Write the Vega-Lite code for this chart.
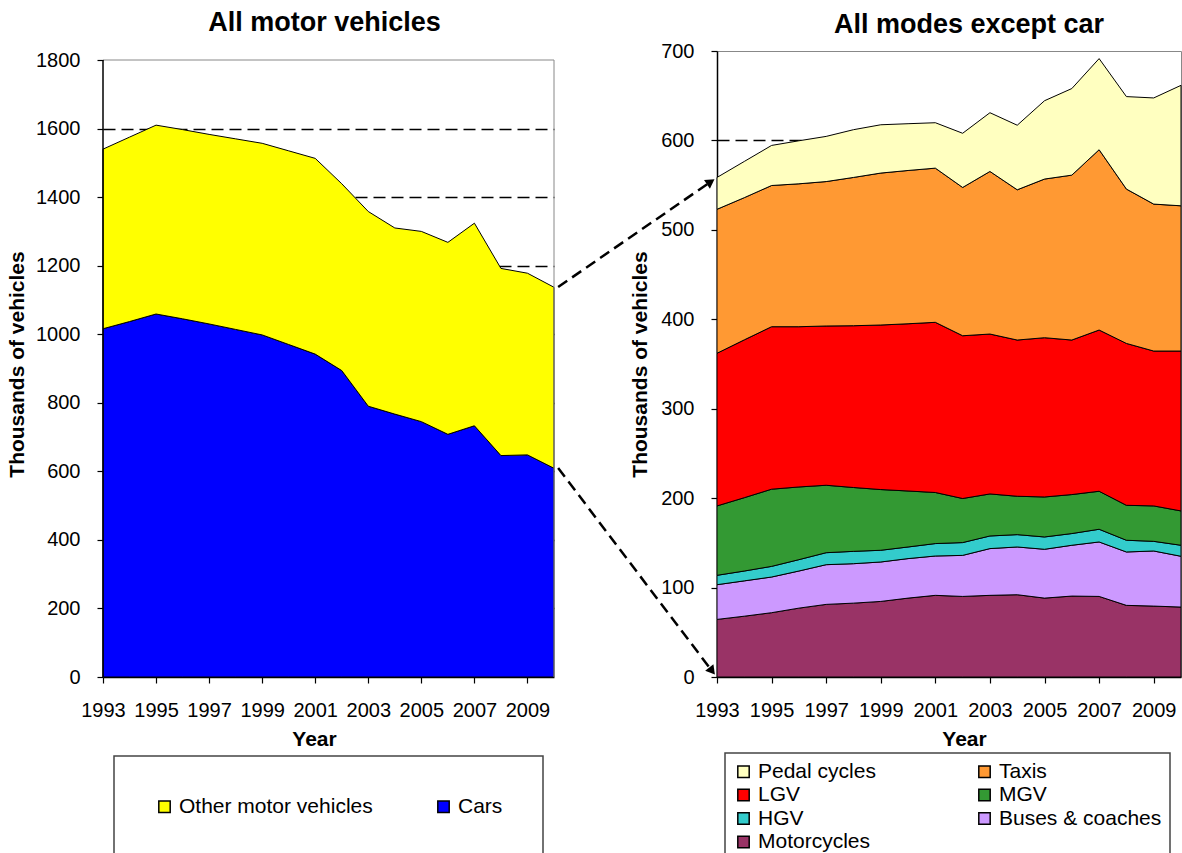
{
  "$schema": "https://vega.github.io/schema/vega-lite/v6.json",
  "padding": {"left": 6, "top": 9, "right": 0, "bottom": 0},
  "background": "white",
  "spacing": 0,
  "config": {
    "font": "Liberation Sans",
    "view": {"stroke": "#888888", "strokeWidth": 1},
    "title": {"font": "Liberation Sans", "fontSize": 27, "fontWeight": "bold", "color": "black", "anchor": "middle", "frame": "group"},
    "axis": {"domainColor": "black", "domainWidth": 1.5, "tickColor": "black", "tickSize": 6, "tickWidth": 1.2, "labelFont": "Liberation Sans", "labelFontSize": 20, "labelColor": "black", "labelPadding": 17, "titleFont": "Liberation Sans", "titleFontSize": 21, "titleFontWeight": "bold", "titleColor": "black", "labelOverlap": false, "labelFlush": false},
    "axisX": {"grid": false},
    "axisY": {"grid": true, "gridColor": "black", "gridDash": [12, 6], "gridWidth": 1.3},
    "legend": {"labelFont": "Liberation Sans", "labelFontSize": 21, "labelColor": "black", "labelLimit": 400, "symbolType": "square", "symbolSize": 130, "symbolStrokeColor": "black", "symbolStrokeWidth": 1.5, "labelOffset": 4, "strokeColor": "#444444", "strokeWidth": 1.5}
  },
  "resolve": {"scale": {"fill": "independent", "x": "independent", "y": "independent"}, "legend": {"fill": "independent"}},
  "hconcat": [
    {
      "width": 451,
      "height": 626,
      "view": {"stroke": null},
      "title": {"text": "All motor vehicles", "dx": -4, "offset": 13},
      "layer": [
        {
          "data": {"values": [
            {"year": 1993, "Cars": 1016, "Other motor vehicles": 524},
            {"year": 1994, "Cars": 1037, "Other motor vehicles": 538},
            {"year": 1995, "Cars": 1059, "Other motor vehicles": 551},
            {"year": 1996, "Cars": 1045, "Other motor vehicles": 552},
            {"year": 1997, "Cars": 1030, "Other motor vehicles": 553},
            {"year": 1998, "Cars": 1014, "Other motor vehicles": 556},
            {"year": 1999, "Cars": 998, "Other motor vehicles": 559},
            {"year": 2000, "Cars": 970, "Other motor vehicles": 565},
            {"year": 2001, "Cars": 942, "Other motor vehicles": 571},
            {"year": 2002, "Cars": 894, "Other motor vehicles": 545},
            {"year": 2003, "Cars": 790, "Other motor vehicles": 568},
            {"year": 2004, "Cars": 767, "Other motor vehicles": 543},
            {"year": 2005, "Cars": 745, "Other motor vehicles": 555},
            {"year": 2006, "Cars": 708, "Other motor vehicles": 560},
            {"year": 2007, "Cars": 733, "Other motor vehicles": 591},
            {"year": 2008, "Cars": 646, "Other motor vehicles": 546},
            {"year": 2009, "Cars": 648, "Other motor vehicles": 530},
            {"year": 2010, "Cars": 609, "Other motor vehicles": 528}
          ]},
          "transform": [{"fold": ["Cars", "Other motor vehicles"], "as": ["vehicle", "value"]}],
          "mark": {"type": "area", "stroke": "black", "strokeWidth": 1, "interpolate": "linear"},
          "encoding": {
            "x": {"field": "year", "type": "quantitative", "scale": {"domain": [1993, 2010], "nice": false, "zero": false},
              "axis": {"values": [1993,1994,1995,1996,1997,1998,1999,2000,2001,2002,2003,2004,2005,2006,2007,2008,2009,2010], "format": "d", "labelExpr": "datum.value % 2 == 1 ? datum.label : ''", "title": "Year", "titleX": 211, "titlePadding": 8}},
            "y": {"field": "value", "type": "quantitative", "stack": "zero", "scale": {"domain": [0, 1826.3], "nice": false},
              "axis": {"values": [0,200,400,600,800,1000,1200,1400,1600,1800], "format": "d", "domain": false, "title": "Thousands of vehicles", "titlePadding": 8, "gridOpacity": {"condition": {"test": "datum.value == 0 || datum.value == 1800", "value": 0}, "value": 1}}},
            "fill": {"field": "vehicle", "type": "nominal", "scale": {"domain": ["Other motor vehicles", "Cars"], "range": ["#FFFF00", "#0000FF"]},
              "legend": {"title": null, "orient": "none", "legendX": 11, "legendY": 705, "direction": "horizontal", "columns": 2, "columnPadding": 60, "padding": 40}},
            "order": {"field": "vehicle", "sort": "ascending"}
          }
        },
        {
          "data": {"values": [
            {"x": 1993, "y": 1800, "x2": 2010, "y2": 1800},
            {"x": 2010, "y": 0, "x2": 2010, "y2": 1800}
          ]},
          "mark": {"type": "rule", "color": "#888888", "strokeWidth": 1},
          "encoding": {
            "x": {"field": "x", "type": "quantitative", "title": "Year"},
            "y": {"field": "y", "type": "quantitative", "title": "Thousands of vehicles"},
            "x2": {"field": "x2"},
            "y2": {"field": "y2"}
          }
        },
        {
          "data": {"values": [
            {"x": 1993, "y": 0, "x2": 1993, "y2": 1800}
          ]},
          "mark": {"type": "rule", "color": "black", "strokeWidth": 1.5},
          "encoding": {
            "x": {"field": "x", "type": "quantitative", "title": "Year"},
            "y": {"field": "y", "type": "quantitative", "title": "Thousands of vehicles"},
            "x2": {"field": "x2"},
            "y2": {"field": "y2"}
          }
        }
      ]
    },
    {
      "width": 464,
      "height": 626,
      "title": {"text": "All modes except car", "dx": 20, "offset": 2},
      "layer": [
        {
          "data": {"values": [
            {"year": 1993, "Motorcycles": 64.4, "Buses & coaches": 38.8, "HGV": 10.5, "MGV": 77.6, "LGV": 170.7, "Taxis": 161.0, "Pedal cycles": 35.6},
            {"year": 1994, "Motorcycles": 68.0, "Buses & coaches": 39.5, "HGV": 11.0, "MGV": 82.0, "LGV": 176.5, "Taxis": 159.0, "Pedal cycles": 40.5},
            {"year": 1995, "Motorcycles": 71.9, "Buses & coaches": 39.9, "HGV": 11.9, "MGV": 86.3, "LGV": 181.7, "Taxis": 157.9, "Pedal cycles": 44.8},
            {"year": 1996, "Motorcycles": 77.0, "Buses & coaches": 41.5, "HGV": 12.7, "MGV": 81.3, "LGV": 179.2, "Taxis": 159.8, "Pedal cycles": 48.1},
            {"year": 1997, "Motorcycles": 81.2, "Buses & coaches": 44.4, "HGV": 13.4, "MGV": 75.4, "LGV": 178.1, "Taxis": 161.5, "Pedal cycles": 50.5},
            {"year": 1998, "Motorcycles": 82.6, "Buses & coaches": 44.1, "HGV": 13.8, "MGV": 71.4, "LGV": 180.9, "Taxis": 165.8, "Pedal cycles": 53.4},
            {"year": 1999, "Motorcycles": 84.5, "Buses & coaches": 44.1, "HGV": 13.1, "MGV": 67.9, "LGV": 184.0, "Taxis": 169.9, "Pedal cycles": 54.0},
            {"year": 2000, "Motorcycles": 88.2, "Buses & coaches": 44.2, "HGV": 13.0, "MGV": 62.6, "LGV": 187.0, "Taxis": 171.4, "Pedal cycles": 52.3},
            {"year": 2001, "Motorcycles": 91.3, "Buses & coaches": 44.0, "HGV": 13.9, "MGV": 57.1, "LGV": 190.3, "Taxis": 172.4, "Pedal cycles": 50.8},
            {"year": 2002, "Motorcycles": 90.1, "Buses & coaches": 45.9, "HGV": 14.3, "MGV": 49.3, "LGV": 182.0, "Taxis": 165.8, "Pedal cycles": 60.6},
            {"year": 2003, "Motorcycles": 91.3, "Buses & coaches": 52.3, "HGV": 14.1, "MGV": 47.0, "LGV": 178.8, "Taxis": 181.8, "Pedal cycles": 65.7},
            {"year": 2004, "Motorcycles": 92.0, "Buses & coaches": 53.4, "HGV": 13.8, "MGV": 42.9, "LGV": 174.7, "Taxis": 168.0, "Pedal cycles": 72.2},
            {"year": 2005, "Motorcycles": 88.2, "Buses & coaches": 54.6, "HGV": 13.8, "MGV": 44.7, "LGV": 178.1, "Taxis": 177.4, "Pedal cycles": 87.6},
            {"year": 2006, "Motorcycles": 90.5, "Buses & coaches": 56.8, "HGV": 13.1, "MGV": 43.6, "LGV": 172.8, "Taxis": 184.4, "Pedal cycles": 96.8},
            {"year": 2007, "Motorcycles": 90.1, "Buses & coaches": 60.9, "HGV": 14.2, "MGV": 42.5, "LGV": 180.3, "Taxis": 201.6, "Pedal cycles": 101.9},
            {"year": 2008, "Motorcycles": 80.1, "Buses & coaches": 59.7, "HGV": 13.1, "MGV": 39.1, "LGV": 181.0, "Taxis": 172.6, "Pedal cycles": 103.4},
            {"year": 2009, "Motorcycles": 79.3, "Buses & coaches": 61.6, "HGV": 10.8, "MGV": 39.6, "LGV": 173.2, "Taxis": 164.3, "Pedal cycles": 118.7},
            {"year": 2010, "Motorcycles": 78.2, "Buses & coaches": 56.8, "HGV": 12.3, "MGV": 38.4, "LGV": 178.8, "Taxis": 162.4, "Pedal cycles": 134.7}
          ]},
          "transform": [
            {"fold": ["Motorcycles", "Buses & coaches", "HGV", "MGV", "LGV", "Taxis", "Pedal cycles"], "as": ["mode", "value"]},
            {"calculate": "indexof(['Motorcycles','Buses & coaches','HGV','MGV','LGV','Taxis','Pedal cycles'], datum.mode)", "as": "stackorder"}
          ],
          "mark": {"type": "area", "stroke": "black", "strokeWidth": 1, "interpolate": "linear"},
          "encoding": {
            "x": {"field": "year", "type": "quantitative", "scale": {"domain": [1993, 2010], "nice": false, "zero": false},
              "axis": {"values": [1993,1994,1995,1996,1997,1998,1999,2000,2001,2002,2003,2004,2005,2006,2007,2008,2009,2010], "format": "d", "labelExpr": "datum.value % 2 == 1 ? datum.label : ''", "title": "Year", "titleX": 247, "titlePadding": 8}},
            "y": {"field": "value", "type": "quantitative", "stack": "zero", "scale": {"domain": [0, 700], "nice": false},
              "axis": {"values": [0,100,200,300,400,500,600,700], "format": "d", "title": "Thousands of vehicles", "titlePadding": 10, "gridOpacity": {"condition": {"test": "datum.value == 0 || datum.value == 700", "value": 0}, "value": 1}}},
            "fill": {"field": "mode", "type": "nominal",
              "scale": {"domain": ["Pedal cycles", "Taxis", "LGV", "MGV", "HGV", "Buses & coaches", "Motorcycles"], "range": ["#FFFFC0", "#FF9933", "#FF0000", "#339933", "#33CCCC", "#CC99FF", "#993366"]},
              "legend": {"title": null, "orient": "none", "legendX": 8, "legendY": 702, "direction": "horizontal", "columns": 2, "columnPadding": 98, "rowPadding": 1.5, "padding": 8}},
            "order": {"field": "stackorder", "type": "quantitative"}
          }
        },
        {
          "data": {"values": [
            {"x": 1987.18, "y": 436.1, "x2": 1992.77, "y2": 553.8},
            {"x": 1987.18, "y": 233.7, "x2": 1992.82, "y2": 6.7}
          ]},
          "mark": {"type": "rule", "color": "black", "strokeWidth": 2.5, "strokeDash": [11, 6]},
          "encoding": {
            "x": {"field": "x", "type": "quantitative", "title": "Year"},
            "y": {"field": "y", "type": "quantitative", "title": "Thousands of vehicles"},
            "x2": {"field": "x2"},
            "y2": {"field": "y2"}
          }
        },
        {
          "data": {"values": [{"x": 1992.77, "y": 553.8}]},
          "mark": {"type": "point", "shape": "triangle-up", "filled": true, "color": "black", "opacity": 1, "size": 110, "angle": 56},
          "encoding": {
            "x": {"field": "x", "type": "quantitative", "title": "Year"},
            "y": {"field": "y", "type": "quantitative", "title": "Thousands of vehicles"}
          }
        },
        {
          "data": {"values": [{"x": 1992.82, "y": 6.7}]},
          "mark": {"type": "point", "shape": "triangle-up", "filled": true, "color": "black", "opacity": 1, "size": 110, "angle": 142},
          "encoding": {
            "x": {"field": "x", "type": "quantitative", "title": "Year"},
            "y": {"field": "y", "type": "quantitative", "title": "Thousands of vehicles"}
          }
        }
      ]
    }
  ]
}
